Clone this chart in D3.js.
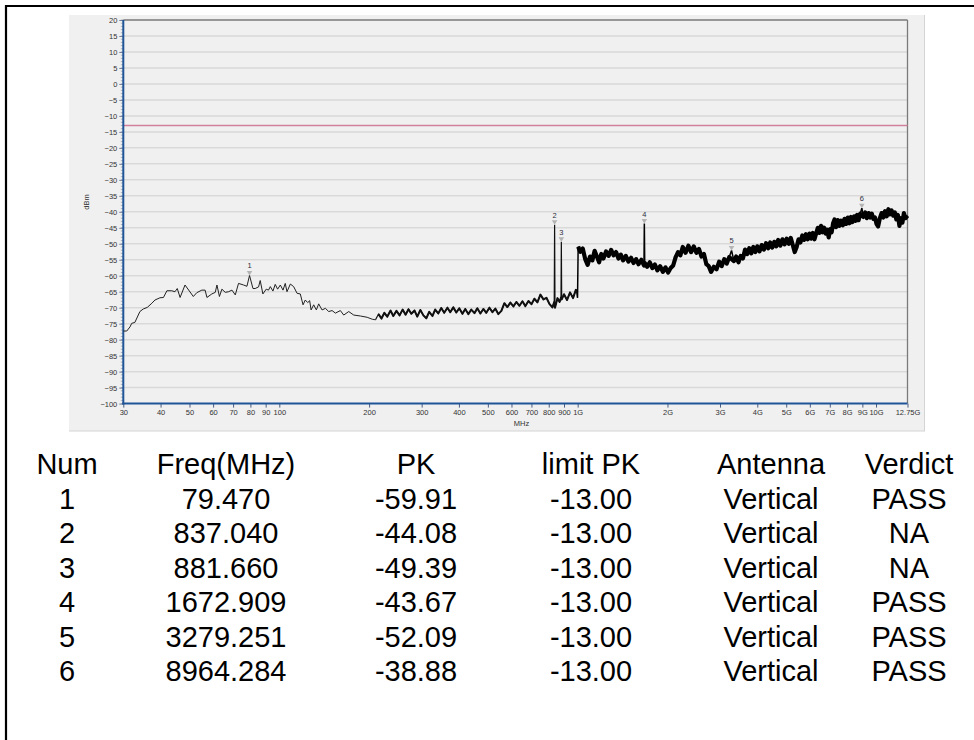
<!DOCTYPE html>
<html>
<head>
<meta charset="utf-8">
<script src="https://cdn.jsdelivr.net/npm/d3@7"></script>
<style>
  html, body { margin: 0; padding: 0; background: #ffffff; }
  svg { display: block; }
</style>
</head>
<body>
<svg id="chart" width="974" height="740"></svg>
<script>
// ---------------- DATA ----------------
// 30 MHz - 210 MHz (thin trace)
const lowFreq = [
  30, 30.8, 31.6, 32.0, 32.8, 34.1, 35.0, 36.1, 37.4, 38.3,
  39.8, 40.9, 42.0, 43.6, 44.7, 45.5, 46.5, 48.3, 51.5, 52.9,
  55.0, 56.4, 57.2, 59.4, 61.0, 61.8, 63.0, 64.2, 65.9, 67.6,
  69.4, 71.2, 73.0, 75.9, 77.9, 79.47, 81.6, 83.0, 85.2, 86.3,
  88.1, 90.4, 92.0, 93.3, 95.2, 96.9, 98.7, 100.8, 102.9, 104.7,
  106.1, 108.9, 111.7, 114.7, 117.6, 120.1, 122.2, 124.5, 126.4, 127.8,
  130.4, 133.1, 135.5, 139.1, 142.7, 146.4, 150.3, 154.2, 160.2, 164.4,
  170.9, 177.6, 187.0, 197.0, 204.8, 210.1
];
const lowLevel = [
  -77.3, -77.3, -76.0, -74.9, -74.6, -71.2, -70.4, -69.9, -68.6, -67.6,
  -66.9, -66.8, -64.7, -64.7, -65.0, -64.0, -66.8, -62.9, -66.5, -65.3,
  -64.5, -64.5, -66.8, -65.7, -65.2, -62.9, -66.5, -64.2, -65.2, -65.0,
  -64.5, -66.0, -62.4, -62.9, -63.3, -59.91, -64.0, -64.0, -63.5, -61.5,
  -65.7, -64.2, -64.5, -63.4, -64.8, -62.7, -64.2, -62.9, -64.5, -62.4,
  -65.0, -62.6, -63.4, -65.5, -65.7, -69.1, -67.6, -68.4, -67.8, -70.7,
  -69.1, -70.7, -68.8, -70.7, -70.2, -71.2, -70.9, -71.7, -70.9, -72.3,
  -71.2, -72.3, -72.6, -73.0, -73.6, -73.8
];
// 210 MHz - 1 GHz (denser noise)
const midFreq = [
  210.1, 215, 220, 225, 230, 236, 241, 247, 253, 259,
  265, 271, 277, 284, 290, 297, 304, 311, 318, 326,
  333, 341, 349, 357, 366, 374, 383, 392, 401, 411,
  420, 430, 440, 451, 461, 472, 483, 494, 506, 518,
  530, 542, 555, 568, 581, 595, 609, 623, 638, 653,
  668, 684, 700, 716, 733, 750, 768, 786, 804, 823,
  834.5, 837.04, 839.5, 856, 870, 879.2, 881.66, 884.1, 900, 921,
  943, 965, 988, 999
];
const midLevel = [
  -73.8, -72.0, -73.4, -71.6, -72.8, -70.9, -72.6, -71.0, -72.4, -70.6,
  -72.2, -70.5, -71.9, -70.9, -72.8, -70.7, -72.4, -73.3, -71.3, -72.6,
  -70.6, -71.8, -70.1, -71.6, -70.0, -71.4, -69.9, -71.5, -70.2, -71.9,
  -70.4, -72.0, -70.6, -71.7, -70.2, -71.8, -70.4, -71.6, -70.0, -71.4,
  -70.3, -72.0, -71.0, -68.6, -69.8, -68.4, -69.6, -68.2, -69.4, -68.0,
  -69.5, -67.9, -68.9, -67.2, -68.3, -65.9, -67.4, -66.9, -68.8, -69.9,
  -68.2, -44.08, -70.0, -67.0, -68.2, -66.8, -49.39, -67.4, -65.8, -67.6,
  -65.2, -67.0, -64.2, -66.9
];
// 1 GHz - 12.75 GHz (dense noise band)
const highFreq = [
  999, 1003.8, 1020, 1040, 1060, 1080, 1100, 1120, 1140, 1160,
  1180, 1200, 1220, 1245, 1270, 1295, 1320, 1345, 1370, 1395,
  1420, 1450, 1480, 1510, 1540, 1570, 1600, 1635, 1668, 1672.909,
  1678, 1710, 1745, 1780, 1815, 1850, 1890, 1930, 1970, 2010,
  2050, 2090, 2130, 2170, 2210, 2250, 2300, 2350, 2400, 2450,
  2500, 2550, 2600, 2650, 2700, 2750, 2800, 2860, 2920, 2980,
  3040, 3100, 3160, 3220, 3279.251, 3340, 3400, 3460, 3520, 3580,
  3640, 3700, 3760, 3820, 3880, 3940, 4000, 4070, 4140, 4210,
  4280, 4350, 4420, 4490, 4560, 4630, 4700, 4780, 4860, 4940,
  5020, 5100, 5180, 5260, 5340, 5420, 5500, 5580, 5660, 5740,
  5820, 5900, 5980, 6060, 6140, 6220, 6300, 6380, 6460, 6540,
  6620, 6700, 6780, 6860, 6940, 7020, 7100, 7180, 7260, 7340,
  7440, 7540, 7640, 7740, 7840, 7940, 8040, 8140, 8240, 8340,
  8440, 8540, 8640, 8740, 8850, 8964.284, 9080, 9200, 9320, 9440,
  9560, 9680, 9800, 9920, 10040, 10160, 10300, 10440, 10580, 10720,
  10860, 11000, 11140, 11280, 11420, 11560, 11700, 11840, 11980, 12120,
  12260, 12400, 12550, 12750
];
const highLevel = [
  -66.9, -50.9, -52.5, -51.5, -54.8, -56.6, -54.0, -55.2, -52.2, -54.0,
  -55.8, -53.2, -54.6, -52.4, -53.8, -51.9, -53.6, -52.6, -54.6, -53.4,
  -55.2, -53.8, -55.6, -54.4, -56.0, -54.8, -56.4, -55.0, -56.8, -43.67,
  -56.0, -57.2, -55.8, -57.6, -56.5, -58.3, -57.0, -58.8, -57.4, -59.0,
  -57.6, -56.8, -54.2, -52.6, -53.6, -51.0, -52.8, -50.6, -52.6, -50.8,
  -52.8, -51.6, -54.0, -53.2, -56.4, -57.0, -58.8, -57.2, -58.0, -55.6,
  -57.0, -54.8, -56.2, -54.2, -52.09, -55.4, -54.0, -55.8, -53.8, -54.6,
  -51.8, -53.2, -51.4, -53.0, -51.0, -52.6, -50.8, -52.4, -50.4, -51.8,
  -49.8, -51.4, -49.6, -51.2, -49.4, -50.8, -48.8, -50.6, -48.6, -50.2,
  -48.4, -50.0, -48.2, -50.4, -52.6, -51.0, -48.6, -49.6, -47.4, -48.8,
  -47.0, -48.6, -46.8, -48.4, -46.6, -48.6, -46.8, -45.0, -46.6, -44.4,
  -46.4, -45.0, -46.8, -45.6, -48.0, -45.4, -46.4, -43.6, -42.4, -44.8,
  -42.6, -44.4, -42.8, -44.2, -42.2, -43.8, -41.8, -43.6, -41.6, -43.2,
  -41.4, -42.8, -41.0, -42.6, -40.6, -38.88, -41.6, -40.2, -42.0, -40.4,
  -41.8, -40.6, -42.2, -41.8, -43.8, -44.6, -42.0, -40.4, -41.8, -39.8,
  -41.4, -39.2, -40.8, -39.6, -41.2, -40.2, -42.4, -41.0, -44.4, -42.0,
  -43.4, -40.4, -42.0, -41.2
];

const limitPK = -13.00;

const markerNum   = [1, 2, 3, 4, 5, 6];
const markerFreq  = [79.470, 837.040, 881.660, 1672.909, 3279.251, 8964.284];
const markerPK    = [-59.91, -44.08, -49.39, -43.67, -52.09, -38.88];
const markerAnt   = ["Vertical", "Vertical", "Vertical", "Vertical", "Vertical", "Vertical"];
const markerVerdict = ["PASS", "NA", "NA", "PASS", "PASS", "PASS"];

const xTickValues = [30, 40, 50, 60, 70, 80, 90, 100, 200, 300, 400, 500, 600, 700, 800, 900,
  1000, 2000, 3000, 4000, 5000, 6000, 7000, 8000, 9000, 10000, 12750];
const xTickLabels = ["30", "40", "50", "60", "70", "80", "90", "100", "200", "300", "400", "500", "600", "700", "800", "900",
  "1G", "2G", "3G", "4G", "5G", "6G", "7G", "8G", "9G", "10G", "12.75G"];

const tableHeaders = ["Num", "Freq(MHz)", "PK", "limit PK", "Antenna", "Verdict"];

// ---------------- LAYOUT ----------------
const svg = d3.select("#chart");
const plot = { left: 123.3, right: 907.5, top: 20, bottom: 403.6 };
const x = d3.scaleLog().domain([30, 12750]).range([plot.left, plot.right]);
const y = d3.scaleLinear().domain([-100, 20]).range([plot.bottom, plot.top]);
const FONT = "'Liberation Sans', Arial, sans-serif";

// outer frame lines
svg.append("line").attr("x1", 5).attr("x2", 974).attr("y1", 6).attr("y2", 6)
  .attr("stroke", "#000").attr("stroke-width", 2.2);
svg.append("line").attr("x1", 6).attr("x2", 6).attr("y1", 5).attr("y2", 740)
  .attr("stroke", "#000").attr("stroke-width", 2.2);

// chart panel
svg.append("rect").attr("x", 69).attr("y", 15).attr("width", 855).attr("height", 416)
  .attr("fill", "#f0f0f0");
svg.append("line").attr("x1", 924.5).attr("x2", 924.5).attr("y1", 15).attr("y2", 431)
  .attr("stroke", "#d4d4d4").attr("stroke-width", 1);
svg.append("line").attr("x1", 69).attr("x2", 925).attr("y1", 431).attr("y2", 431)
  .attr("stroke", "#d4d4d4").attr("stroke-width", 1);

// horizontal grid
const yTicks = y.ticks(24);
svg.append("g").selectAll("line").data(yTicks.filter(d => d > -100 && d < 20)).join("line")
  .attr("x1", plot.left).attr("x2", plot.right)
  .attr("y1", d => y(d)).attr("y2", d => y(d))
  .attr("stroke", "#d9d9d9").attr("stroke-width", 1.5);

// plot frame top / right
svg.append("line").attr("x1", plot.left).attr("x2", plot.right).attr("y1", plot.top).attr("y2", plot.top)
  .attr("stroke", "#7a7a7a").attr("stroke-width", 1.3);
svg.append("line").attr("x1", plot.right).attr("x2", plot.right).attr("y1", plot.top).attr("y2", plot.bottom)
  .attr("stroke", "#7a7a7a").attr("stroke-width", 1.3);

// limit line
svg.append("line").attr("x1", plot.left).attr("x2", plot.right)
  .attr("y1", y(limitPK)).attr("y2", y(limitPK))
  .attr("stroke", "#d17f9f").attr("stroke-width", 1.6);

// minor y ticks
svg.append("g").selectAll("line").data(y.ticks(120)).join("line")
  .attr("x1", plot.left - 2.5).attr("x2", plot.left)
  .attr("y1", d => y(d)).attr("y2", d => y(d))
  .attr("stroke", "#9aa6b8").attr("stroke-width", 0.8);

// y axis
const yAxis = svg.append("g").attr("transform", `translate(${plot.left},0)`)
  .call(d3.axisLeft(y).tickValues(yTicks).tickSize(4).tickPadding(2).tickFormat(d3.format("d")));
yAxis.select(".domain").remove();
yAxis.selectAll(".tick line").attr("stroke", "#6f7f99").attr("stroke-width", 1);
yAxis.selectAll("text").attr("font-family", FONT).attr("font-size", 7.5).attr("fill", "#333");
svg.append("line").attr("x1", plot.left).attr("x2", plot.left).attr("y1", plot.top).attr("y2", plot.bottom + 1)
  .attr("stroke", "#1f5597").attr("stroke-width", 2);

// x axis
const xAxis = svg.append("g").attr("transform", `translate(0,${plot.bottom})`)
  .call(d3.axisBottom(x).tickValues(xTickValues).tickSize(4).tickPadding(2)
    .tickFormat((d, i) => xTickLabels[i]));
xAxis.select(".domain").remove();
xAxis.selectAll(".tick line").attr("stroke", "#4a5f80").attr("stroke-width", 1);
xAxis.selectAll("text").attr("font-family", FONT).attr("font-size", 7.5).attr("fill", "#333");
svg.append("line").attr("x1", plot.left - 1).attr("x2", plot.right).attr("y1", plot.bottom).attr("y2", plot.bottom)
  .attr("stroke", "#1f5597").attr("stroke-width", 2);

// axis titles
svg.append("text").attr("x", (x(600) + x(700)) / 2).attr("y", 426).attr("text-anchor", "middle")
  .attr("font-family", FONT).attr("font-size", 7.5).attr("fill", "#333").text("MHz");
svg.append("text").attr("transform", `translate(89,202) rotate(-90)`).attr("text-anchor", "middle")
  .attr("font-family", FONT).attr("font-size", 7.5).attr("fill", "#333").text("dBm");

// trace segments: thick under-stroke gives the dense noise band, thin stroke carries spikes
const line = d3.line().x(d => x(d[0])).y(d => y(d[1]));
const spikeSet = new Set(markerFreq);
const segments = [
  { f: lowFreq, v: lowLevel, under: 0, w: 1.0, c: "#222" },
  { f: midFreq, v: midLevel, under: 2.0, w: 1.2, c: "#111" },
  { f: highFreq, v: highLevel, under: 4.2, w: 1.5, c: "#000" }
];
segments.forEach(s => {
  const pts = s.f.map((f, i) => [f, s.v[i]]);
  if (s.under > 0) {
    const bandPts = pts.filter((p, i) => i > 0 && i < pts.length - 1 && !spikeSet.has(p[0]) || (i === pts.length - 1 && s.f[i] > 1000));
    svg.append("path").datum(bandPts).attr("d", line)
      .attr("fill", "none").attr("stroke", s.c).attr("stroke-width", s.under)
      .attr("stroke-linejoin", "round");
  }
  svg.append("path").datum(pts).attr("d", line)
    .attr("fill", "none").attr("stroke", s.c).attr("stroke-width", s.w)
    .attr("stroke-linejoin", "miter").attr("stroke-miterlimit", 2);
});

// markers
const markers = markerNum.map((n, i) => ({ n, f: markerFreq[i], v: markerPK[i] }));
const mg = svg.append("g").selectAll("g").data(markers).join("g")
  .attr("transform", d => `translate(${x(d.f)},${y(d.v)})`);
mg.append("path").attr("d", "M-2.8,-4.5 L2.8,-4.5 L0,0 Z").attr("fill", "#b4b4b4");
mg.append("text").attr("y", -7).attr("text-anchor", "middle")
  .attr("font-family", FONT).attr("font-size", 7.5).attr("fill", "#2c2c3c").text(d => d.n);

// table
const colX = [67, 226, 416, 591, 771, 909];
const rowY0 = 474, rowStep = 34.4;
const tfont = 29;
svg.append("g").selectAll("text").data(tableHeaders).join("text")
  .attr("x", (d, i) => colX[i]).attr("y", rowY0).attr("text-anchor", "middle")
  .attr("font-family", FONT).attr("font-size", tfont).attr("fill", "#000").text(d => d);

const rows = markerNum.map((n, i) => [
  String(n), markerFreq[i].toFixed(3), markerPK[i].toFixed(2), limitPK.toFixed(2), markerAnt[i], markerVerdict[i]
]);
const rg = svg.append("g").selectAll("g").data(rows).join("g")
  .attr("transform", (d, i) => `translate(0,${rowY0 + 35 + rowStep * i})`);
rg.selectAll("text").data(d => d).join("text")
  .attr("x", (d, i) => colX[i]).attr("text-anchor", "middle")
  .attr("font-family", FONT).attr("font-size", tfont).attr("fill", "#000").text(d => d);
</script>
</body>
</html>
